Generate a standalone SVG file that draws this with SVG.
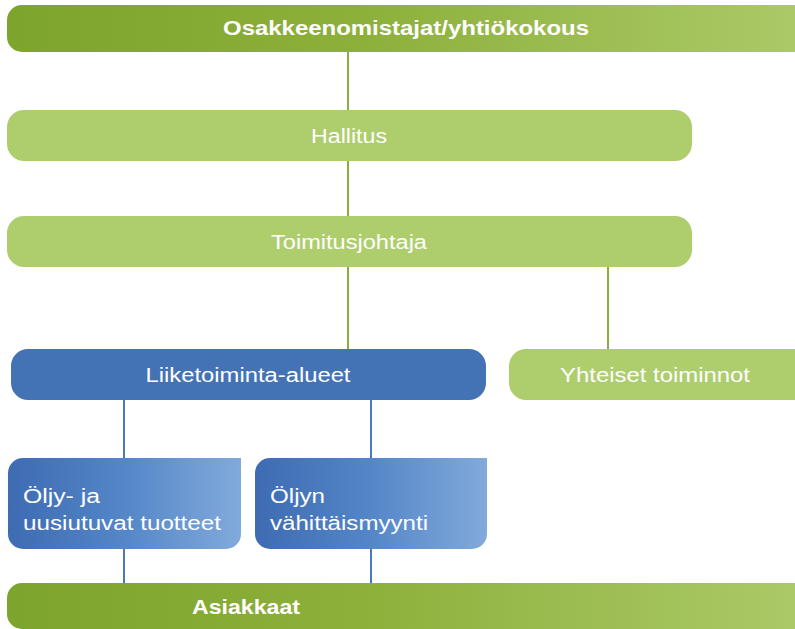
<svg xmlns="http://www.w3.org/2000/svg" width="795" height="629" viewBox="0 0 795 629">
<defs>
<linearGradient id="gbar" x1="0" y1="0" x2="1" y2="0">
<stop offset="0" stop-color="#7DA42C"/>
<stop offset="0.45" stop-color="#8DB03B"/>
<stop offset="1" stop-color="#ABC967"/>
</linearGradient>
<linearGradient id="bbox" x1="0" y1="0" x2="1" y2="0">
<stop offset="0" stop-color="#3E6BB2"/>
<stop offset="0.5" stop-color="#5486C8"/>
<stop offset="1" stop-color="#82AADB"/>
</linearGradient>
<style>
.t{font-family:"Liberation Sans",Arial,sans-serif;fill:#ffffff;font-size:20px}
.b{font-weight:bold}
.lg{fill:#AECE6E}
.bl{fill:#4473B5}
.cg{stroke:#8AAE3E;stroke-width:2;fill:none}
.cb{stroke:#4A78BE;stroke-width:2;fill:none}
</style>
</defs>
<rect width="795" height="629" fill="#ffffff"/>
<g id="connectors">
<line class="cg" x1="348" y1="52" x2="348" y2="112"/>
<line class="cg" x1="348" y1="160" x2="348" y2="218"/>
<line class="cg" x1="348" y1="266" x2="348" y2="350"/>
<line class="cg" x1="608" y1="266" x2="608" y2="350"/>
<line class="cb" x1="124" y1="399" x2="124" y2="459"/>
<line class="cb" x1="371" y1="399" x2="371" y2="459"/>
<line class="cb" x1="124" y1="548" x2="124" y2="584"/>
<line class="cb" x1="371" y1="548" x2="371" y2="584"/>
</g>
<g id="osakkeenomistajat">
<path d="M22,5 H795 V52 H22 A15,15 0 0 1 7,37 V20 A15,15 0 0 1 22,5 Z" fill="url(#gbar)"/>
<text class="t b" x="406" y="35" text-anchor="middle" textLength="366" lengthAdjust="spacingAndGlyphs">Osakkeenomistajat/yhtiökokous</text>
</g>
<g id="hallitus">
<rect class="lg" x="7" y="110" width="685" height="51" rx="17"/>
<text class="t" x="349" y="143" text-anchor="middle" textLength="76" lengthAdjust="spacingAndGlyphs">Hallitus</text>
</g>
<g id="toimitusjohtaja">
<rect class="lg" x="7" y="216" width="685" height="51" rx="17"/>
<text class="t" x="349" y="249" text-anchor="middle" textLength="156" lengthAdjust="spacingAndGlyphs">Toimitusjohtaja</text>
</g>
<g id="liiketoiminta">
<rect class="bl" x="11" y="349" width="475" height="51" rx="17"/>
<text class="t" x="248" y="382" text-anchor="middle" textLength="205" lengthAdjust="spacingAndGlyphs">Liiketoiminta-alueet</text>
</g>
<g id="yhteiset">
<path d="M526,349 H795 V400 H526 A17,17 0 0 1 509,383 V366 A17,17 0 0 1 526,349 Z" class="lg"/>
<text class="t" x="655" y="382" text-anchor="middle" textLength="190" lengthAdjust="spacingAndGlyphs">Yhteiset toiminnot</text>
</g>
<g id="oljy-uusiutuvat">
<path d="M23,458 H241 V534 A15,15 0 0 1 226,549 H23 A15,15 0 0 1 8,534 V473 A15,15 0 0 1 23,458 Z" fill="url(#bbox)"/>
<text class="t" x="23" y="503" textLength="77" lengthAdjust="spacingAndGlyphs">Öljy- ja</text>
<text class="t" x="23" y="530" textLength="198" lengthAdjust="spacingAndGlyphs">uusiutuvat tuotteet</text>
</g>
<g id="oljyn-vahittaismyynti">
<path d="M270,458 H487 V534 A15,15 0 0 1 472,549 H270 A15,15 0 0 1 255,534 V473 A15,15 0 0 1 270,458 Z" fill="url(#bbox)"/>
<text class="t" x="270" y="503" textLength="55" lengthAdjust="spacingAndGlyphs">Öljyn</text>
<text class="t" x="270" y="530" textLength="158" lengthAdjust="spacingAndGlyphs">vähittäismyynti</text>
</g>
<g id="asiakkaat">
<path d="M22,583 H795 V629 H22 A15,15 0 0 1 7,614 V598 A15,15 0 0 1 22,583 Z" fill="url(#gbar)"/>
<text class="t b" x="246" y="614" text-anchor="middle" textLength="108" lengthAdjust="spacingAndGlyphs">Asiakkaat</text>
</g>
</svg>
